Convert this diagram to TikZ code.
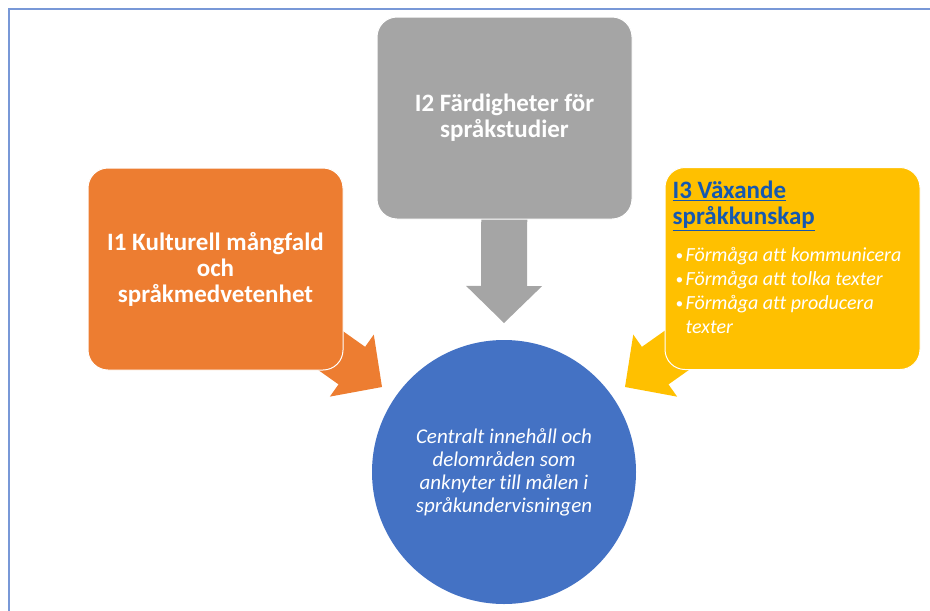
\documentclass[tikz,border=0pt]{standalone}
\usepackage{fontspec}
\setmainfont{Carlito}[Ligatures=NoCommon]
\usetikzlibrary{calc,positioning}
\definecolor{frameColor}{RGB}{120,152,215}
\definecolor{orangeBox}{HTML}{ED7D31}
\definecolor{grayBox}{HTML}{A5A5A5}
\definecolor{yellowBox}{HTML}{FFC000}
\definecolor{blueCircle}{HTML}{4472C4}
\definecolor{titleBlue}{HTML}{1558B0}
\tikzstyle{canvas} = [x=1pt, y=-1pt]
\tikzstyle{boxStyle} = [rectangle, rounded corners=20pt, draw=white, line width=1pt, inner sep=0pt, minimum width=255pt, minimum height=202pt, text=white, align=center]
\tikzstyle{titleText} = [font=\fontsize{25}{26}\selectfont\bfseries]
\tikzstyle{itemText} = [font=\fontsize{20}{24}\selectfont\itshape, text=white, align=left, inner sep=0pt]
\tikzstyle{circleStyle} = [circle, fill=blueCircle, minimum size=264pt, inner sep=0pt, text=white, align=center, font=\fontsize{21}{23}\selectfont\itshape]
\tikzstyle{frameLine} = [color=frameColor, line width=2pt]
\newcommand{\shaftHalf}{23pt}
\newcommand{\headHalf}{38pt}
\newcommand{\headLen}{37pt}
\newcommand{\blockArrow}[3]{
  \coordinate (headBase) at ($(#3)!\headLen!(#2)$);
  \fill [#1] ($(#2)!\shaftHalf!90:(#3)$) -- ($(headBase)!\shaftHalf!90:(#3)$) -- ($(headBase)!\headHalf!90:(#3)$) -- (#3) -- ($(headBase)!\headHalf!-90:(#3)$) -- ($(headBase)!\shaftHalf!-90:(#3)$) -- ($(#2)!\shaftHalf!-90:(#3)$) -- cycle;
}
\newcommand{\bulletItem}[1]{\makebox[10pt][l]{\raisebox{1pt}{\fontsize{15}{15}\selectfont\textbullet}}#1}

\begin{document}
\begin{tikzpicture}[canvas]
  \useasboundingbox (0,0) rectangle (930,611);
  \draw [frameLine] (930,9) -- (9,9) -- (9,611);

  \node [boxStyle, fill=grayBox] (I2) at (504.5,118) {};
  \node [boxStyle, fill=orangeBox] (I1) at (215.5,269) {};
  \node [boxStyle, fill=yellowBox] (I3) at (792.5,268.5) {};
  \coordinate (tipTop) at (504,323);
  \coordinate (tipLeft) at (382,387);
  \coordinate (tipRight) at (625,387);
  \blockArrow{grayBox}{I2.center}{tipTop}
  \blockArrow{orangeBox}{I1.center}{tipLeft}
  \blockArrow{yellowBox}{I3.center}{tipRight}

  % boxes again on top of the arrows
  \node [boxStyle, fill=grayBox, titleText] (I2text) at (504.5,118) {I2 Färdigheter för\\språkstudier};
  \node [boxStyle, fill=orangeBox, titleText] (I1text) at (215.5,269) {I1 Kulturell mångfald\\och\\språkmedvetenhet};
  \node [boxStyle, fill=yellowBox] (I3box) at (792.5,268.5) {};
  \node [titleText, text=titleBlue, align=left, inner sep=0pt, anchor=north west] (I3title) at ([shift={(8,14)}]I3box.north west) {\underline{I3 Växande}\\\underline{språkkunskap}};
  \node [itemText, anchor=north west] (I3list) at ([shift={(3,16)}]I3title.south west) {\bulletItem{Förmåga att kommunicera}\\\bulletItem{Förmåga att tolka texter}\\\bulletItem{Förmåga att producera}\\\hspace*{10pt}texter};

  \node [circleStyle] (goal) at (504,472) {Centralt innehåll och\\delområden som\\anknyter till målen i\\språkundervisningen};
\end{tikzpicture}
\end{document}
